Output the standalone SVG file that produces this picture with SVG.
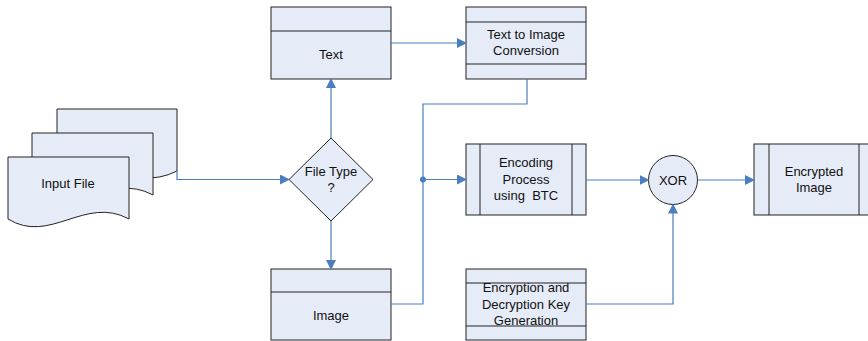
<svg xmlns="http://www.w3.org/2000/svg" width="868" height="341" viewBox="0 0 868 341">
<defs>
<style>
.s{fill:#e6ecf7;stroke:#222;stroke-width:1}
.d{fill:none;stroke:#222;stroke-width:1}
.c{fill:none;stroke:#4a7ebf;stroke-width:1.2}
text{font-family:"Liberation Sans",Arial,sans-serif;font-size:13px;fill:#111;text-anchor:middle}
</style>
<marker id="a" markerWidth="10" markerHeight="10" refX="9" refY="5" orient="auto" markerUnits="userSpaceOnUse">
<path d="M0,0 L10,5 L0,10 z" fill="#4a7ebf"/>
</marker>
</defs>
<rect width="868" height="341" fill="#fff"/>
<g id="input-file">
<path class="s" d="M57,109 H177 V171 C129,195 103,147 57,171 Z"/>
<path class="s" d="M32,133 H153 V195 C109,171 74,221 32,195 Z"/>
<path class="s" d="M8,157 H129 V219 C85,195 50,245 8,219 Z"/>
<text x="68" y="188">Input File</text>
</g>
<g id="text">
<rect class="s" x="271" y="7" width="120" height="72"/>
<line class="d" x1="271" y1="31" x2="391" y2="31"/>
<text x="331" y="59">Text</text>
</g>
<g id="text-to-image">
<rect class="s" x="466" y="7" width="120" height="72"/>
<line class="d" x1="466" y1="22" x2="586" y2="22"/>
<line class="d" x1="466" y1="64" x2="586" y2="64"/>
<text x="526" y="39">Text to Image</text>
<text x="526" y="55">Conversion</text>
</g>
<g id="file-type">
<path class="s" d="M331,138 L373,179.5 L331,221 L289,179.5 Z"/>
<text x="331" y="176">File Type</text>
<text x="331" y="192">?</text>
</g>
<g id="image">
<rect class="s" x="271" y="269" width="120" height="71"/>
<line class="d" x1="271" y1="292" x2="391" y2="292"/>
<text x="331" y="320">Image</text>
</g>
<g id="encoding">
<rect class="s" x="466" y="144" width="120" height="71"/>
<line class="d" x1="480" y1="144" x2="480" y2="215"/>
<line class="d" x1="572" y1="144" x2="572" y2="215"/>
<text x="526" y="167">Encoding</text>
<text x="526" y="184">Process</text>
<text x="526" y="200">using&#160; BTC</text>
</g>
<g id="key-gen">
<rect class="s" x="466" y="269" width="120" height="71"/>
<line class="d" x1="466" y1="283" x2="586" y2="283"/>
<line class="d" x1="466" y1="326" x2="586" y2="326"/>
<text x="526" y="292">Encryption and</text>
<text x="526" y="309">Decryption Key</text>
<text x="526" y="325">Generation</text>
</g>
<g id="xor">
<circle class="s" cx="673" cy="180" r="24.5"/>
<text x="673" y="185">XOR</text>
</g>
<g id="encrypted-image">
<rect class="s" x="754" y="144" width="120" height="71"/>
<line class="d" x1="769" y1="144" x2="769" y2="215"/>
<line class="d" x1="859" y1="144" x2="859" y2="215"/>
<text x="814" y="176">Encrypted</text>
<text x="814" y="192">Image</text>
</g>
<g id="connectors">
<path class="c" d="M177,171 V179.5 H289" marker-end="url(#a)"/>
<path class="c" d="M331,138 V79" marker-end="url(#a)"/>
<path class="c" d="M331,221 V269" marker-end="url(#a)"/>
<path class="c" d="M391,43 H466" marker-end="url(#a)"/>
<path class="c" d="M527,79 V104 H423 V304 H391"/>
<path class="c" d="M423,179.5 H466" marker-end="url(#a)"/>
<circle cx="423" cy="179.5" r="3" fill="#4a7ebf"/>
<path class="c" d="M586,180 H648.5" marker-end="url(#a)"/>
<path class="c" d="M697.5,180 H754" marker-end="url(#a)"/>
<path class="c" d="M586,304 H673 V204.5" marker-end="url(#a)"/>
</g>
</svg>
